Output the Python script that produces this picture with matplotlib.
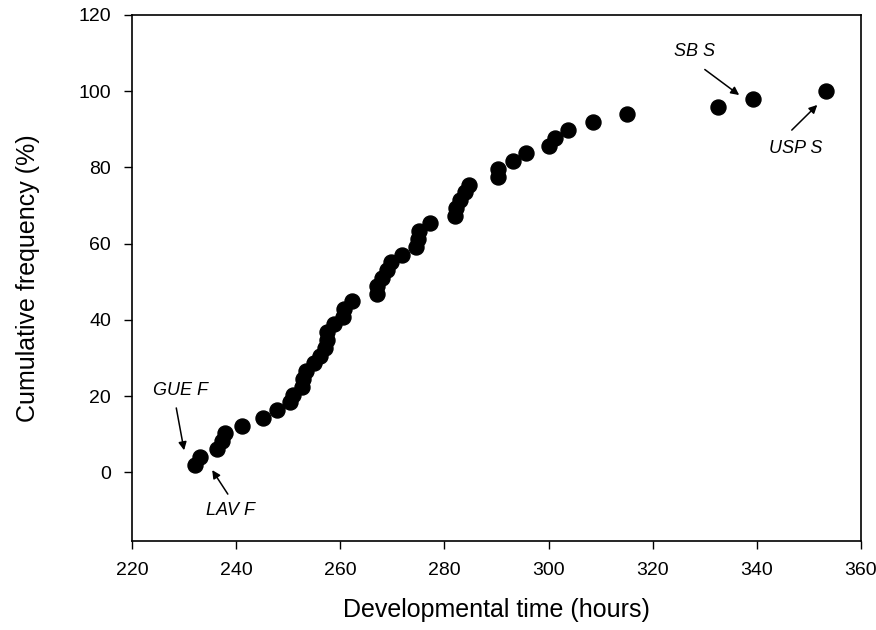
import matplotlib.pyplot as plt

plt.rcParams['font.family'] = ['Liberation Sans', 'DejaVu Sans']

# Developmental time (hours) per population, in ascending order
dev_time = [232.1, 233.1, 236.3, 237.2, 237.9, 241.1, 245.1, 247.8, 250.3, 251.0,
            252.6, 252.9, 253.5, 255.0, 256.1, 257.1, 257.5, 257.4, 258.7, 260.6,
            260.7, 262.3, 267.0, 267.1, 268.0, 269.0, 269.7, 271.8, 274.6, 274.9,
            275.1, 277.3, 282.0, 282.3, 283.0, 284.0, 284.8, 290.3, 290.3, 293.2,
            295.7, 300.1, 301.2, 303.8, 308.6, 315.0, 332.6, 339.2, 353.2]

# Cumulative frequency (%)
cum_freq = [2.0, 4.1, 6.1, 8.2, 10.2, 12.2, 14.3, 16.3, 18.4, 20.4,
            22.4, 24.5, 26.5, 28.6, 30.6, 32.7, 34.7, 36.7, 38.8, 40.8,
            42.9, 44.9, 46.9, 49.0, 51.0, 53.1, 55.1, 57.1, 59.2, 61.2,
            63.3, 65.3, 67.3, 69.4, 71.4, 73.5, 75.5, 77.6, 79.6, 81.6,
            83.7, 85.7, 87.8, 89.8, 91.8, 93.9, 95.9, 98.0, 100.0]

# Labelled extremes: text, text position, arrow tail, arrow head
labels = ['GUE F', 'LAV F', 'SB S', 'USP S']
label_pos = [(229.4, 21.6), (239.0, -10.0), (328.1, 110.3), (347.5, 85.1)]
arrow_tail = [(228.5, 16.9), (238.4, -5.7), (330.0, 105.7), (346.7, 89.8)]
arrow_head = [(230.0, 5.8), (235.4, 0.6), (336.6, 99.0), (351.6, 96.4)]

fig = plt.figure(figsize=(8.76, 6.3), dpi=100)
ax = fig.add_axes([0.1507, 0.1413, 0.8322, 0.8349])

ax.plot(dev_time, cum_freq, 'o', color='black', markersize=10.8, linestyle='none')

for txt, pos, tail, head in zip(labels, label_pos, arrow_tail, arrow_head):
    ax.text(pos[0], pos[1], txt, fontsize=13, style='italic',
            ha='center', va='center')
    ax.annotate('', xy=head, xytext=tail,
                arrowprops=dict(arrowstyle='-|>', color='black', lw=1.1,
                                mutation_scale=12, shrinkA=0, shrinkB=0))

ax.set_xlim(220, 360)
ax.set_ylim(-18, 120)
ax.set_xticks(range(220, 361, 20))
ax.set_yticks(range(0, 121, 20))
ax.tick_params(direction='out', length=6, width=1, labelsize=14, pad=9,
               top=False, right=False)
for s in ax.spines.values():
    s.set_linewidth(1.2)

ax.set_xlabel('Developmental time (hours)', fontsize=18, labelpad=14)
ax.set_ylabel('Cumulative frequency (%)', fontsize=18, labelpad=28)

fig.savefig('out.png', dpi=100)
plt.close(fig)
